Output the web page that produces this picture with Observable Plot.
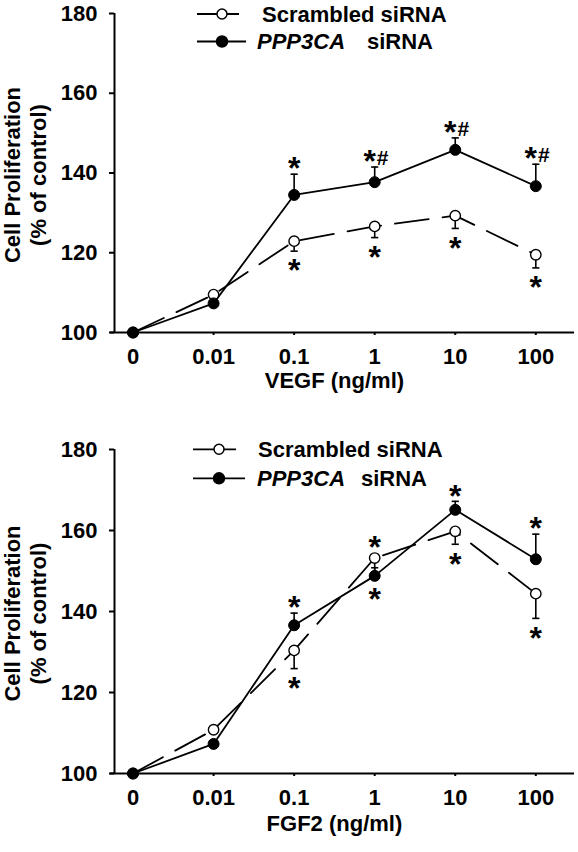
<!DOCTYPE html>
<html>
<head>
<meta charset="utf-8">
<script src="https://cdn.jsdelivr.net/npm/d3@7"></script>
<script src="https://cdn.jsdelivr.net/npm/@observablehq/plot@0.6"></script>
<style>
  html, body { margin: 0; padding: 0; background: #fff; overflow: hidden; }
  svg { display: block; }
</style>
</head>
<body>
<div id="top"></div>
<div id="bottom"></div>
<script>
// ---- data ----
const xLabels = ["0", "0.01", "0.1", "1", "10", "100"];
const yTicks = [100, 120, 140, 160, 180];
const yTitle = "Cell Proliferation\n(% of control)";
const legendScrambled = "Scrambled siRNA";
const legendGene = "PPP3CA";
const legendSuffix = "siRNA";

// VEGF panel
const vegfTitle = "VEGF (ng/ml)";
const vegfScr = [100, 109.5, 122.9, 126.6, 129.3, 119.5];
const vegfScrErr = [0, 0, 2.5, 2.8, 3.2, 3.3];
const vegfPpp = [100, 107.3, 134.5, 137.7, 145.8, 136.7];
const vegfPppErr = [0, 0, 5.2, 3.8, 3.0, 5.5];
const vegfScrAnn = ["", "", "*", "*", "*", "*"];
const vegfScrSide = ["", "", "below", "below", "below", "below"];
const vegfPppAnn = ["", "", "*", "*#", "*#", "*#"];
const vegfPppSide = ["", "", "above", "above", "above", "above"];

// FGF2 panel
const fgfTitle = "FGF2 (ng/ml)";
const fgfScr = [100, 110.8, 130.4, 153.2, 159.8, 144.4];
const fgfScrErr = [0, 0, 4.5, 3.5, 3.2, 6.1];
const fgfPpp = [100, 107.3, 136.6, 148.8, 165.1, 152.9];
const fgfPppErr = [0, 0, 3.0, 2.0, 2.1, 6.2];
const fgfScrAnn = ["", "", "*", "*", "*", "*"];
const fgfScrSide = ["", "", "below", "above", "below", "below"];
const fgfPppAnn = ["", "", "*", "*", "*", "*"];
const fgfPppSide = ["", "", "above", "below", "above", "above"];

// ---- layout ----
const W = 578;
const ML = 114;
const xDomain = [-0.23, 5.53];
const yDomain = [100, 180];
const FONT = "'Liberation Sans', Arial, Helvetica, sans-serif";

const capSymbol = {
  draw(ctx, size) {
    const w = Math.sqrt(size / Math.PI);
    ctx.moveTo(-w, 0); ctx.lineTo(w, 0);
  }
};

function legendMark(rows, suffixX) {
  return () => {
    const g = d3.create("svg:g").attr("font-family", FONT).attr("font-weight", "bold")
      .attr("font-size", 22).attr("text-anchor", "start");
    rows.forEach((r) => {
      g.append("line").attr("x1", r.x1).attr("x2", r.x2).attr("y1", r.y).attr("y2", r.y)
        .attr("stroke", "black").attr("stroke-width", 1.8);
      g.append("circle").attr("cx", r.cx).attr("cy", r.y).attr("r", r.filled ? 5.5 : 5)
        .attr("fill", r.filled ? "black" : "white").attr("stroke", "black").attr("stroke-width", 1.5);
      if (r.filled) {
        g.append("text").attr("x", r.tx).attr("y", r.y).attr("dy", "0.36em")
          .attr("font-style", "italic").text(legendGene);
        g.append("text").attr("x", suffixX).attr("y", r.y).attr("dy", "0.36em").text(legendSuffix);
      } else {
        g.append("text").attr("x", r.tx).attr("y", r.y).attr("dy", "0.36em").text(legendScrambled);
      }
    });
    return g.node();
  };
}

function panel(o) {
  const innerH = o.height - o.marginTop - o.marginBottom;
  const pxPerUnit = innerH / (yDomain[1] - yDomain[0]);
  const rows = xLabels.map((lab, i) => ({
    i, scr: o.scr[i], scrErr: o.scrErr[i], ppp: o.ppp[i], pppErr: o.pppErr[i]
  }));
  // annotations
  const ann = [];
  xLabels.forEach((lab, i) => {
    [[o.scrAnn, o.scrSide, o.scr, o.scrErr, -1], [o.pppAnn, o.pppSide, o.ppp, o.pppErr, 1]]
      .forEach(([A, S, M, E, errDir]) => {
        if (!A[i]) return;
        const dir = S[i] === "above" ? 1 : -1;
        const onCap = dir === errDir && E[i] > 0;
        const gap = onCap ? (dir > 0 ? 12 : 13) : 17;
        const base = M[i] + (onCap ? dir * E[i] : 0);
        ann.push({i, y: base + dir * gap / pxPerUnit, text: A[i]});
      });
  });
  const starOnly = ann.filter(d => d.text === "*");
  const starHash = ann.filter(d => d.text === "*#");

  return Plot.plot({
    width: W,
    height: o.height,
    marginLeft: ML,
    marginRight: 0,
    marginTop: o.marginTop,
    marginBottom: o.marginBottom,
    style: {fontFamily: FONT, fontWeight: "bold", fontSize: "22px", color: "black", background: "white"},
    x: {type: "linear", domain: xDomain, axis: null},
    y: {domain: yDomain, axis: null},
    marks: [
      Plot.ruleY([yDomain[0]], {strokeWidth: 2, x1: xDomain[0], x2: xDomain[1], dx: -4}),
      Plot.ruleX([xDomain[0]], {y1: yDomain[0], y2: yDomain[1], strokeWidth: 2}),
      Plot.axisY({ticks: yTicks, tickSize: 5, tickPadding: 12, strokeWidth: 2, label: null, fontSize: 22}),
      Plot.axisX({ticks: d3.range(xLabels.length), tickFormat: i => xLabels[i], tickSize: 3, tickPadding: 13, strokeWidth: 2, label: null, fontSize: 22}),
      // y title
      Plot.text([yTitle], {text: d => d, frameAnchor: "left", rotate: -90, dx: -ML + 0.5, dy: 2,
        lineAnchor: "top", lineHeight: 1.2, fontSize: 22, textAnchor: "middle"}),
      // x title
      Plot.text([o.xTitle], {text: d => d, x: () => (xLabels.length - 1) / 2, frameAnchor: "bottom",
        dy: o.titleDy, fontSize: 22, textAnchor: "middle"}),
      // lines
      Plot.line(rows, {x: "i", y: "scr", stroke: "black", strokeWidth: 1.8, strokeDasharray: "34,14"}),
      Plot.line(rows, {x: "i", y: "ppp", stroke: "black", strokeWidth: 1.8}),
      // error bars
      Plot.ruleX(rows.filter(d => d.scrErr > 0), {x: "i", y1: "scr", y2: d => d.scr - d.scrErr, strokeWidth: 1.6}),
      Plot.dot(rows.filter(d => d.scrErr > 0), {x: "i", y: d => d.scr - d.scrErr, symbol: capSymbol, r: 3.6, stroke: "black", strokeWidth: 1.6}),
      Plot.ruleX(rows.filter(d => d.pppErr > 0), {x: "i", y1: "ppp", y2: d => d.ppp + d.pppErr, strokeWidth: 1.6}),
      Plot.dot(rows.filter(d => d.pppErr > 0), {x: "i", y: d => d.ppp + d.pppErr, symbol: capSymbol, r: 3.6, stroke: "black", strokeWidth: 1.6}),
      // points
      Plot.dot(rows, {x: "i", y: "scr", r: 5.2, fill: "white", stroke: "black", strokeWidth: 1.4}),
      Plot.dot(rows, {x: "i", y: "ppp", r: 5.5, fill: "black", stroke: "black", strokeWidth: 1}),
      // significance marks
      Plot.text(starOnly, {x: "i", y: "y", text: () => "*", fontSize: 32, dy: 7}),
      Plot.text(starHash, {x: "i", y: "y", text: () => "*", fontSize: 32, dy: 7, dx: -5}),
      Plot.text(starHash, {x: "i", y: "y", text: () => "#", fontSize: 21, dx: 8, dy: 3}),
      legendMark(o.legend, o.suffixX)
    ]
  });
}

const topChart = panel({
  height: 420, marginTop: 13, marginBottom: 88,
  scr: vegfScr, scrErr: vegfScrErr, ppp: vegfPpp, pppErr: vegfPppErr,
  scrAnn: vegfScrAnn, scrSide: vegfScrSide, pppAnn: vegfPppAnn, pppSide: vegfPppSide,
  xTitle: vegfTitle, titleDy: 55,
  legend: [
    {y: 14, x1: 197, x2: 239, cx: 222, tx: 262, filled: false},
    {y: 41.5, x1: 197, x2: 246, cx: 222, tx: 257, filled: true}
  ],
  suffixX: 367
});
const bottomChart = panel({
  height: 432, marginTop: 29, marginBottom: 79,
  scr: fgfScr, scrErr: fgfScrErr, ppp: fgfPpp, pppErr: fgfPppErr,
  scrAnn: fgfScrAnn, scrSide: fgfScrSide, pppAnn: fgfPppAnn, pppSide: fgfPppSide,
  xTitle: fgfTitle, titleDy: 57.5,
  legend: [
    {y: 29.3, x1: 193, x2: 236, cx: 219, tx: 258, filled: false},
    {y: 58.3, x1: 193, x2: 245, cx: 219, tx: 257, filled: true}
  ],
  suffixX: 361
});
document.getElementById("top").appendChild(topChart);
document.getElementById("bottom").appendChild(bottomChart);
</script>
</body>
</html>
